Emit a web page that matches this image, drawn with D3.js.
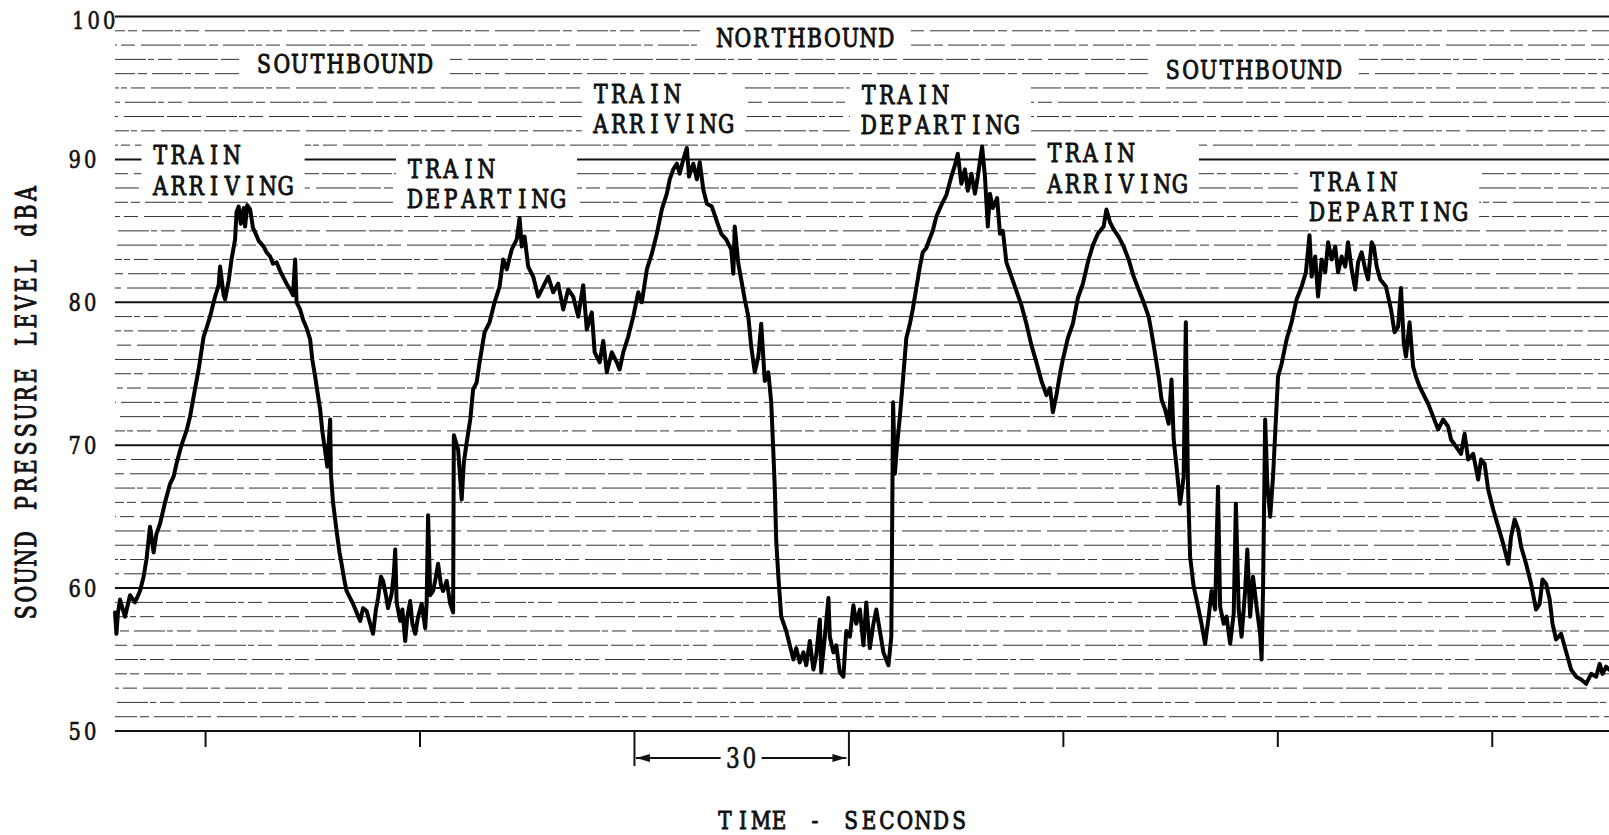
<!DOCTYPE html>
<html><head><meta charset="utf-8">
<script src="https://cdn.jsdelivr.net/npm/d3@7/dist/d3.min.js"></script>
<style>
html,body{margin:0;padding:0;background:#fff;}
svg{display:block;}
text{font-family:"DejaVu Serif","Liberation Serif",serif;fill:#111;}
</style></head><body>
<svg id="chart" width="1609" height="835"></svg>
<script>
// ---------- data ----------
const levelTicks = [50, 60, 70, 80, 90, 100];
const timeTicks = [30, 60, 90, 120, 150, 180, 210];
const timeDomain = [17.4, 226.4];
const levelDomain = [50, 100];
const spanMarker = [90, 120];
const spanLabel = "30";
const yTitle = "SOUND PRESSURE LEVEL dBA";
const xTitle = "TIME - SECONDS";

// trace readings [seconds, dBA], one array per train event
const sbArriving = [[17.4,58.3],[17.6,56.8],[17.8,58.2],[18.1,59.2],[18.8,58],[19.5,59.5],[20.2,59],[20.9,59.8],[21.4,60.8],[21.8,62],[22.3,64.3],[22.8,62.5],[23.2,63.8],[23.7,64.5],[24.4,66],[25.1,67.3],[25.6,67.8],[26.0,68.7],[26.7,70],[27.4,71],[27.9,72],[28.4,73.4],[29.1,75.3],[29.8,77.6],[30.2,78.2],[30.7,79],[31.4,80.4],[31.9,81.2],[32.1,82.5],[32.6,80.5],[32.8,80.2],[33.3,81.5],[33.7,83],[34.2,84.4],[34.4,86.3],[34.7,86.7],[35.0,85.5],[35.4,86.6],[35.6,85.3],[35.9,86.8],[36.3,86.5],[36.7,85.2],[37.0,84.9],[37.5,84.3],[38.2,83.9],[38.6,83.5],[39.1,83.2],[39.5,82.7],[40.0,82.8],[40.5,82.2],[40.9,81.8],[41.4,81.3],[41.9,80.9],[42.3,80.5],[42.6,83],[42.8,80],[43.3,79.5],[43.7,78.8],[44.2,78.2],[44.7,77.4],[45.0,76],[45.4,74.8],[45.7,73.8],[46.1,72.5],[46.4,71],[46.8,69.6],[47.1,68.5],[47.5,71.8],[47.6,68],[47.9,66],[48.4,64],[48.8,62.5],[49.1,61.7],[49.5,60.5],[49.8,59.8],[50.3,59.3],[50.7,58.9],[51.2,58.3],[51.7,57.7],[52.1,58.6],[52.6,58.4],[53.1,57.5],[53.5,56.8],[53.9,58.5],[54.2,59.3],[54.6,60.8],[54.9,60.5],[55.3,59.5],[55.6,58.6],[56.1,59.6],[56.4,61],[56.6,62.7],[56.8,59],[57.3,57.7],[57.6,58.5],[58.0,56.3],[58.3,58],[58.7,59.1],[59.0,57.5],[59.4,56.8],[59.8,58],[60.3,58.9],[60.8,57.2],[61.0,59],[61.2,65.1],[61.5,59.5],[61.9,59.8],[62.3,60.8],[62.6,61.7],[63.0,60.2],[63.3,59.8],[63.8,60.5],[64.3,58.9],[64.7,58.3]];
const sbDeparting = [[64.8,70.7],[65.4,69.7],[65.9,66.2],[66.2,68.8],[66.6,70.2],[67.1,71.8],[67.5,73.9],[68.0,74.4],[68.4,75.8],[69.1,77.9],[69.8,78.6],[70.5,80],[71.2,81.1],[71.7,83],[72.2,82.3],[72.9,83.7],[73.6,84.4],[74.0,85.9],[74.3,83.9],[74.7,84.6],[75.2,82.5],[75.9,81.8],[76.6,80.4],[77.3,81.1],[78.0,81.8],[78.7,80.7],[79.4,81.3],[80.1,79.5],[80.8,80.9],[81.5,80.4],[82.2,79],[82.9,81.2],[83.4,78.1],[84.1,79.3],[84.5,76.5],[85.2,75.8],[85.7,77.3],[86.2,75.1],[86.9,76.5],[87.6,75.8],[88.0,75.3]];
const nbArriving = [[88.5,76.5],[89.2,77.6],[89.9,79],[90.6,80.7],[91.1,80],[91.8,82.3],[92.5,83.4],[93.2,84.8],[93.9,86.5],[94.6,87.6],[95.0,88.6],[95.5,89.3],[96.0,89.7],[96.4,89],[96.9,90],[97.4,90.8],[97.7,88.8],[98.3,89.7],[98.8,88.6],[99.2,89.8],[99.7,87.9],[100.2,86.9],[100.9,86.7],[101.5,85.8],[102.2,84.8],[102.9,84.4],[103.6,83.7],[103.9,82],[104.1,85.3],[104.6,82.7],[105.0,81.6],[105.5,80.2],[106.0,79],[106.4,76.9],[106.9,75.1],[107.4,76.2],[107.8,78.5],[108.3,74.5],[108.8,75.1],[109.2,73],[109.5,69.5],[109.7,67],[109.9,63.3],[110.2,60.8],[110.6,58],[111.3,57],[111.8,56],[112.3,55],[112.7,55.8],[113.2,54.8],[113.7,55.5],[114.1,54.6],[114.6,56.3],[115.1,54.3],[115.5,55.3],[116.0,57.8],[116.2,54.1],[116.7,56.6],[117.2,59.3],[117.4,56.6],[117.9,55.5],[118.3,56],[118.8,54.1],[119.3,53.8],[119.7,57],[120.2,56.6],[120.7,58.8],[121.1,57.5],[121.6,58.5],[122.1,56],[122.5,59],[123.0,55.8],[123.5,57.5],[123.9,58.5],[124.4,57],[124.9,55.5],[125.6,54.6],[126.0,56.6]];
const nbDeparting = [[126.25,73],[126.5,68],[126.8,70],[127.2,72],[127.7,75],[128.1,77.5],[128.6,78.5],[129.0,79.5],[129.5,81],[130.0,82.5],[130.4,83.5],[130.9,83.8],[131.4,84.5],[131.8,85],[132.3,86],[133.0,86.8],[133.7,87.5],[134.4,88.8],[134.9,89.6],[135.3,90.4],[135.8,88.3],[136.3,89.3],[136.7,87.8],[137.2,89],[137.7,87.6],[138.1,88.8],[138.7,90.9],[139.1,88.8],[139.5,85.3],[139.8,87.6],[140.2,86.6],[140.8,87.3],[141.2,84.8],[141.6,85],[142.1,82.8],[142.8,81.8],[143.5,80.8],[144.2,79.8],[144.9,78.5],[145.6,77],[146.3,75.8],[147.0,74.5],[147.7,73.5],[148.2,74],[148.6,72.3],[149.1,73.5]];
const sb2Arriving = [[149.6,75],[150.0,76],[150.7,77.5],[151.4,78.5],[152.1,80.3],[152.8,81.3],[153.5,82.8],[154.2,84],[154.9,84.8],[155.7,85.3],[156.1,86.5],[156.6,85.6],[157.1,85.1],[157.8,84.6],[158.5,83.9],[159.2,83],[159.9,81.8],[160.6,80.9],[161.3,80],[162.0,79],[162.4,77.9],[162.9,76.4],[163.4,74.8],[163.8,73.2],[164.3,72.5],[164.8,71.5],[165.2,74.6],[165.5,70.4],[165.9,68.5],[166.4,65.9],[166.9,67.8],[167.2,78.6],[167.5,67.3],[167.8,62.2],[168.3,60.1],[168.7,59.2],[169.4,57.5],[169.9,56.1],[170.4,58],[170.8,59.8],[171.3,58.5],[171.7,67.1],[172.0,58.7],[172.5,57.5],[172.9,58],[173.4,56.1],[173.9,58.2],[174.2,65.9],[174.6,58.5],[175.0,56.6],[175.5,59.8],[175.8,62.7],[176.2,58],[176.6,60.8],[177.1,58.7],[177.6,56.8],[177.8,55],[178.0,59.8]];
const sb2Departing = [[178.3,71.8],[178.6,67.3],[179.0,65],[179.4,67.8],[179.7,70.8],[180.1,74.8],[180.6,75.7],[181.3,77.4],[182.0,78.6],[182.7,80.2],[183.4,81.1],[184.0,82.1],[184.5,84.7],[184.8,81.8],[185.3,83.2],[185.7,80.4],[186.2,83],[186.7,82.1],[187.1,84.2],[187.6,83],[188.1,83.9],[188.5,82.1],[189.0,83.2],[189.5,82.5],[189.9,84.2],[190.4,82.3],[190.9,80.9],[191.3,82.8],[191.8,83.5],[192.3,82.3],[192.7,81.6],[193.2,84.2],[193.5,83.9],[193.9,82.5],[194.4,81.6],[195.2,81.1],[195.9,79.5],[196.4,77.9],[196.9,78.3],[197.3,81],[197.7,77.1],[198.0,76.2],[198.5,78.6],[199.0,75.5],[199.4,74.8],[199.9,74.1],[200.4,73.6],[201.1,72.9],[201.8,72],[202.5,71.1],[203.2,71.8],[203.9,71.3],[204.3,70.4],[205.0,69.9],[205.7,69.4],[206.2,70.8],[206.7,69],[207.4,69.4],[208.1,67.6],[208.5,69],[209.0,68.7],[209.5,66.9],[210.2,65.5],[210.9,64.3],[211.6,63.1],[212.3,61.7],[212.7,63.6],[213.2,64.8],[213.7,64.1],[214.1,62.9],[214.8,61.7],[215.5,60.3],[216.2,58.5],[216.7,58.9],[217.1,60.6],[217.6,60.3],[218.1,59.2],[218.5,57.5],[219.0,56.4],[219.7,56.8],[220.2,55.9],[220.6,55.2],[221.1,54.3],[221.8,53.8],[222.5,53.6],[223.2,53.3],[223.9,54],[224.6,53.8],[225.1,54.7],[225.5,54],[226.0,54.5],[226.4,54.3]];

// annotation texts
const directionLabels = ["SOUTHBOUND", "NORTHBOUND", "SOUTHBOUND"];
const eventLabels = [["TRAIN","ARRIVING"],["TRAIN","DEPARTING"],["TRAIN","ARRIVING"],["TRAIN","DEPARTING"],["TRAIN","ARRIVING"],["TRAIN","DEPARTING"]];

// ---------- layout (anchors in data units) ----------
const directionAnchors = [[49.5, 96.7], [114.0, 98.5], [176.65, 96.27]];   // centre
const eventAnchors = [[22.5, 90.3], [58.1, 89.38], [84.1, 94.62], [121.6, 94.55], [147.6, 90.45], [184.3, 88.45]]; // left / first line centre

const svg = d3.select("#chart");
const x = d3.scaleLinear().domain(timeDomain).range([115, 1609]);
const y = d3.scaleLinear().domain(levelDomain).range([731, 16.5]);

// typewriter-style text: every character centred in a fixed cell
function typeLine(parent, str, px, py, o) {
  const cell = o.cell || 17.9, sq = o.squeeze || 0.8, fs = o.size || 25.5, align = o.align || "start";
  const n = str.length;
  const x0 = align === "start" ? px : align === "middle" ? px - n * cell / 2 : px - n * cell;
  const g = parent.append("g").attr("transform", `translate(${x0},${py}) scale(${sq},1)`);
  const t = g.append("text").attr("text-anchor", "middle").attr("font-size", fs)
    .attr("stroke", "#111").attr("stroke-width", o.sw == null ? 1.0 : o.sw).attr("stroke-linejoin", "round");
  [...str].forEach((ch, i) => {
    if (ch === " ") return;
    t.append("tspan").attr("x", (i + 0.5) * cell / sq).attr("y", 0.3645 * fs).text(ch);
  });
  return { x0: x0, x1: x0 + n * cell };
}

// ---------- grid ----------
const minor = d3.range(levelDomain[0] + 1, levelDomain[1]).filter(v => v % 10 !== 0);
svg.append("g").selectAll("line").data(minor).join("line")
  .attr("x1", x.range()[0]).attr("x2", x.range()[1])
  .attr("y1", d => y(d)).attr("y2", d => y(d))
  .attr("stroke", "#333").attr("stroke-width", 1)
  .attr("stroke-dasharray", "22 3 9 5 31 2 6 4 14 6 40 3")
  .attr("stroke-dashoffset", (d, i) => (i * 37) % 101);

svg.append("g").selectAll("line").data(levelTicks).join("line")
  .attr("x1", x.range()[0]).attr("x2", x.range()[1])
  .attr("y1", d => y(d)).attr("y2", d => y(d))
  .attr("stroke", "#111").attr("stroke-width", 2);

// ---------- labels with white backgrounds ----------
const labelG = svg.append("g");
function boxedLabel(lines, px, py, align, pad) {
  const g = labelG.append("g");
  const rect = g.append("rect").attr("fill", "#fff");
  let xa = Infinity, xb = -Infinity;
  lines.forEach((s, i) => {
    const r = typeLine(g, s, px, py + i * 30.5, { align: align });
    xa = Math.min(xa, r.x0); xb = Math.max(xb, r.x1);
  });
  rect.attr("x", xa - pad).attr("y", py - 14).attr("width", xb - xa + 2 * pad)
    .attr("height", 28 + (lines.length - 1) * 30.5);
}
directionLabels.forEach((s, i) => boxedLabel([s], x(directionAnchors[i][0]), y(directionAnchors[i][1]), "middle", 16));
eventLabels.forEach((ls, i) => boxedLabel(ls, x(eventAnchors[i][0]), y(eventAnchors[i][1]), "start", 10));

// ---------- trace ----------
const trace = [].concat(sbArriving, sbDeparting, nbArriving, nbDeparting, sb2Arriving, sb2Departing);
svg.append("path").datum(trace)
  .attr("fill", "none").attr("stroke", "#000").attr("stroke-width", 4)
  .attr("stroke-linejoin", "round").attr("stroke-linecap", "round")
  .attr("d", d3.line().x(d => x(d[0])).y(d => y(d[1])));

// ---------- y axis labels ----------
const yAxis = svg.append("g").attr("transform", `translate(98,0)`)
  .call(d3.axisLeft(y).tickValues(levelTicks).tickSize(0).tickFormat(""));
yAxis.select(".domain").remove();
yAxis.selectAll(".tick").each(function (d) {
  typeLine(d3.select(this), d3.format("d")(d), d === 100 ? 117 - 98 : 0, d === 100 ? 2.5 : -1,
    { cell: 15.5, squeeze: 0.78, size: 25, align: "end", sw: 0.7 });
});

// ---------- x axis ticks ----------
const xAxis = svg.append("g").attr("transform", `translate(0,${y(levelDomain[0])})`)
  .call(d3.axisBottom(x).tickValues(timeTicks).tickSize(16).tickFormat(""));
xAxis.select(".domain").remove();
xAxis.selectAll("line").attr("stroke", "#111").attr("stroke-width", 2)
  .attr("y2", d => (d === spanMarker[0] || d === spanMarker[1]) ? 35 : 16);

// ---------- 30 s span marker ----------
const defs = svg.append("defs");
defs.append("marker").attr("id", "ah").attr("viewBox", "0 0 14 8").attr("refX", 14).attr("refY", 4)
  .attr("markerWidth", 14).attr("markerHeight", 8).attr("markerUnits", "userSpaceOnUse").attr("orient", "auto")
  .append("path").attr("d", "M0,0 L14,4 L0,8 Z").attr("fill", "#111");
const ay = y(levelDomain[0]) + 27;
const xm = (x(spanMarker[0]) + x(spanMarker[1])) / 2;
const sr = typeLine(svg, spanLabel, xm, ay, { cell: 16.5, squeeze: 0.8, size: 27, align: "middle", sw: 0.7 });
svg.append("line").attr("x1", sr.x0 - 4).attr("x2", x(spanMarker[0]) + 2).attr("y1", ay).attr("y2", ay)
  .attr("stroke", "#111").attr("stroke-width", 2).attr("marker-end", "url(#ah)");
svg.append("line").attr("x1", sr.x1 + 4).attr("x2", x(spanMarker[1]) - 2).attr("y1", ay).attr("y2", ay)
  .attr("stroke", "#111").attr("stroke-width", 2).attr("marker-end", "url(#ah)");

// ---------- titles ----------
typeLine(svg, xTitle, 842, 820, { cell: 18, squeeze: 0.8, size: 25, align: "middle" });
const yt = svg.append("g").attr("transform", "translate(26,403) rotate(-90)");
typeLine(yt, yTitle, 0, 0, { cell: 18.2, squeeze: 0.76, size: 27, align: "middle" });
</script>
</body></html>
